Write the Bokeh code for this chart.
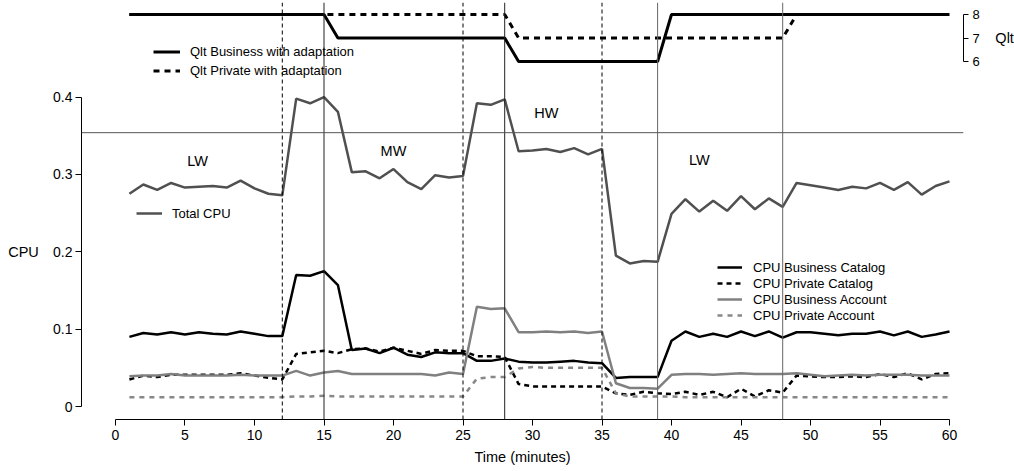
from bokeh.plotting import figure
from bokeh.models import (Range1d, LinearAxis, FixedTicker, Span, Legend, LegendItem, Label)
from bokeh.core.properties import value
from bokeh.embed import file_html
from bokeh.resources import INLINE

# ---------------- data ----------------
minutes = list(range(1, 61))

total_cpu = [0.275, 0.287, 0.280, 0.289, 0.283, 0.284, 0.285, 0.283, 0.292, 0.282,
             0.275, 0.273, 0.398, 0.392, 0.400, 0.381, 0.303, 0.304, 0.295, 0.307,
             0.290, 0.281, 0.299, 0.296, 0.298, 0.392, 0.390, 0.397, 0.330, 0.331,
             0.333, 0.329, 0.334, 0.326, 0.333, 0.195, 0.185, 0.188, 0.187, 0.249,
             0.268, 0.252, 0.266, 0.253, 0.272, 0.255, 0.269, 0.258, 0.289, 0.286,
             0.283, 0.280, 0.284, 0.282, 0.289, 0.280, 0.290, 0.274, 0.285, 0.291]

cpu_business_catalog = [0.090, 0.095, 0.093, 0.096, 0.093, 0.096, 0.094, 0.093, 0.097, 0.094,
                        0.091, 0.091, 0.170, 0.169, 0.175, 0.157, 0.073, 0.075, 0.069, 0.076,
                        0.067, 0.064, 0.070, 0.069, 0.069, 0.059, 0.059, 0.062, 0.058, 0.057,
                        0.057, 0.058, 0.059, 0.057, 0.056, 0.037, 0.038, 0.038, 0.038, 0.085,
                        0.097, 0.090, 0.094, 0.090, 0.097, 0.091, 0.097, 0.089, 0.096, 0.096,
                        0.094, 0.092, 0.094, 0.094, 0.097, 0.092, 0.097, 0.090, 0.093, 0.097]

cpu_private_catalog = [0.035, 0.040, 0.038, 0.041, 0.041, 0.041, 0.041, 0.041, 0.043, 0.040,
                       0.037, 0.035, 0.068, 0.070, 0.072, 0.069, 0.074, 0.075, 0.071, 0.076,
                       0.072, 0.068, 0.073, 0.072, 0.072, 0.065, 0.065, 0.064, 0.029, 0.026,
                       0.026, 0.026, 0.026, 0.026, 0.026, 0.017, 0.015, 0.019, 0.017, 0.016,
                       0.019, 0.015, 0.019, 0.012, 0.023, 0.013, 0.021, 0.018, 0.040, 0.039,
                       0.038, 0.038, 0.039, 0.038, 0.042, 0.038, 0.043, 0.035, 0.042, 0.043]

cpu_business_account = [0.039, 0.040, 0.040, 0.042, 0.040, 0.040, 0.040, 0.040, 0.041, 0.040,
                        0.040, 0.040, 0.046, 0.040, 0.044, 0.046, 0.042, 0.042, 0.042, 0.042,
                        0.042, 0.042, 0.040, 0.044, 0.042, 0.129, 0.126, 0.127, 0.096, 0.096,
                        0.097, 0.096, 0.097, 0.095, 0.097, 0.030, 0.024, 0.024, 0.023, 0.041,
                        0.042, 0.042, 0.041, 0.042, 0.043, 0.042, 0.042, 0.042, 0.043, 0.041,
                        0.039, 0.040, 0.041, 0.040, 0.041, 0.041, 0.041, 0.040, 0.040, 0.040]

cpu_private_account = [0.012, 0.012, 0.012, 0.012, 0.012, 0.012, 0.012, 0.012, 0.012, 0.012,
                       0.012, 0.012, 0.013, 0.013, 0.014, 0.013, 0.013, 0.013, 0.013, 0.013,
                       0.013, 0.013, 0.013, 0.013, 0.013, 0.036, 0.038, 0.038, 0.049, 0.051,
                       0.050, 0.050, 0.050, 0.050, 0.050, 0.017, 0.013, 0.013, 0.013, 0.013,
                       0.012, 0.012, 0.012, 0.012, 0.012, 0.012, 0.012, 0.012, 0.012, 0.012,
                       0.012, 0.012, 0.012, 0.012, 0.012, 0.012, 0.012, 0.012, 0.012, 0.012]

qlt_business = [8] * 15 + [7] * 13 + [6] * 11 + [8] * 21
qlt_private = [8] * 28 + [7] * 20 + [8] * 12

dashed_events = [12, 25, 35]
solid_events_dark = [15, 28]
solid_events_gray = [39, 48]
cpu_threshold = 0.354

phase_labels = ["LW", "MW", "HW", "LW"]
phase_x = [5.9, 20.0, 31.0, 42.0]
phase_y = [0.318, 0.330, 0.379, 0.319]

x_ticks = list(range(0, 61, 5))
cpu_ticks = [0, 0.1, 0.2, 0.3, 0.4]
cpu_tick_labels = ["0", "0.1", "0.2", "0.3", "0.4"]
qlt_ticks = [6, 7, 8]

FONT = "Liberation Sans"

# ---------------- figure ----------------
p = figure(width=1014, height=471, output_backend="svg", toolbar_location=None,
           x_range=Range1d(-2.446, 61.007), y_range=Range1d(-0.0168, 0.5223),
           min_border_left=81, min_border_right=51, min_border_top=2, min_border_bottom=52)
p.outline_line_color = None
p.xgrid.visible = False
p.ygrid.visible = False
p.background_fill_color = "white"
p.border_fill_color = "white"

p.extra_y_ranges = {"qlt": Range1d(-9.234, 8.511)}

# axes
xa = p.xaxis[0]
xa.ticker = FixedTicker(ticks=x_ticks)
xa.bounds = (0, 60)
xa.axis_label = "Time (minutes)"
ya = p.yaxis[0]
ya.ticker = FixedTicker(ticks=cpu_ticks)
ya.bounds = (0, 0.4)
ya.major_label_overrides = {t: s for t, s in zip(cpu_ticks, cpu_tick_labels)}

qa = LinearAxis(y_range_name="qlt", ticker=FixedTicker(ticks=qlt_ticks), bounds=(6, 8))
p.add_layout(qa, "right")

for ax in (xa, ya, qa):
    ax.axis_line_color = "black"
    ax.axis_line_width = 1
    ax.major_tick_line_color = "black"
    ax.major_tick_out = 6
    ax.major_tick_in = 0
    ax.minor_tick_line_color = None
    ax.major_label_text_font = FONT
    ax.major_label_text_font_size = "14px"
    ax.major_label_text_color = "black"
    ax.axis_label_text_font = FONT
    ax.axis_label_text_font_size = "14.5px"
    ax.axis_label_text_font_style = "normal"
    ax.axis_label_text_color = "black"
xa.major_label_standoff = 4
xa.axis_label_standoff = 6
ya.major_label_standoff = 3
qa.major_tick_out = 5
qa.major_label_standoff = 4
qa.major_label_text_font_size = "13px"

# axis titles placed at the middle of the bounded axes (side panels, so not clipped)
p.add_layout(Label(x=-6.62, y=0.2, text="CPU", text_font=FONT, text_font_size="14.5px",
                   text_align="center", text_baseline="middle", text_color="black"), "left")
p.add_layout(Label(x=63.3, y=7, y_range_name="qlt", text="Qlt", text_font=FONT,
                   text_font_size="14.5px", text_align="left", text_baseline="middle",
                   text_color="black"), "right")

# reference lines
for xv in dashed_events:
    p.add_layout(Span(location=xv, dimension="height", line_color="black",
                      line_width=1, line_dash="4 3"))
for xv in solid_events_dark:
    p.add_layout(Span(location=xv, dimension="height", line_color="#222222", line_width=1))
for xv in solid_events_gray:
    p.add_layout(Span(location=xv, dimension="height", line_color="#666666", line_width=1))
p.add_layout(Span(location=cpu_threshold, dimension="width", line_color="#555555", line_width=1))

# series
r_total = p.line(minutes, total_cpu, line_color="#505050", line_width=2.5)
r_bc = p.line(minutes, cpu_business_catalog, line_color="black", line_width=2.5)
r_pc = p.line(minutes, cpu_private_catalog, line_color="black", line_width=2.5, line_dash="5 4")
r_ba = p.line(minutes, cpu_business_account, line_color="#808080", line_width=2.5)
r_pa = p.line(minutes, cpu_private_account, line_color="#888888", line_width=2.5, line_dash="5 5")

r_qb = p.line(minutes, qlt_business, y_range_name="qlt", line_color="black", line_width=3)
r_qp = p.line(minutes, qlt_private, y_range_name="qlt", line_color="black", line_width=3,
              line_dash="6 5")

# phase labels
p.text(phase_x, phase_y, text=phase_labels, text_font=value(FONT), text_font_size="14.5px",
       text_align="center", text_baseline="middle", text_color="black")

def make_legend(items, loc, gw, gh, standoff):
    lg = Legend(items=items, location=loc, glyph_width=gw, glyph_height=gh, label_height=gh,
                label_standoff=standoff, spacing=0, padding=0, margin=0,
                border_line_color=None, background_fill_alpha=0,
                label_text_font=FONT, label_text_font_size="13px", label_text_color="black")
    return lg

p.add_layout(make_legend([LegendItem(label="Qlt Business with adaptation", renderers=[r_qb]),
                          LegendItem(label="Qlt Private with adaptation", renderers=[r_qp])],
                         (72, 339), 27, 19, 10))
p.add_layout(make_legend([LegendItem(label="Total CPU", renderers=[r_total])],
                         (55, 198), 26, 16, 10))
p.add_layout(make_legend([LegendItem(label="CPU Business Catalog", renderers=[r_bc]),
                          LegendItem(label="CPU Private Catalog", renderers=[r_pc]),
                          LegendItem(label="CPU Business Account", renderers=[r_ba]),
                          LegendItem(label="CPU Private Account", renderers=[r_pa])],
                         (636, 96), 25, 16, 11))

open("out.html", "w").write(file_html(p, INLINE))
